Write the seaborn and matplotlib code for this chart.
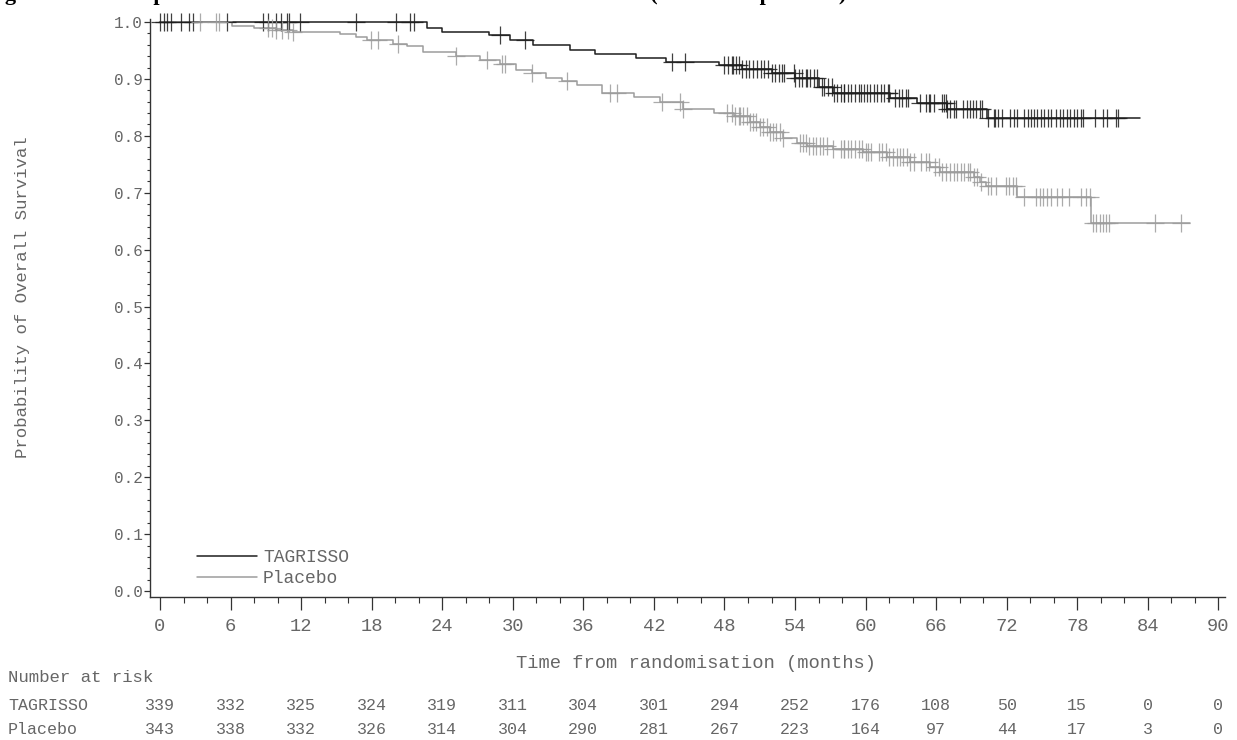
import numpy as np
import matplotlib
matplotlib.use("Agg")
import matplotlib.pyplot as plt
import matplotlib.transforms as mtransforms
from matplotlib.ticker import MultipleLocator
import seaborn as sns

# Kaplan-Meier step points (months, survival probability)
tag_t = [0, 22.7, 24.0, 28.0, 29.8, 31.7, 34.9, 37.0, 40.5, 43.0, 47.5, 49.5, 52.0,
         54.0, 56.0, 57.2, 62.1, 64.4, 66.9, 70.3, 83.3]
tag_s = [1.0, 0.990, 0.983, 0.977, 0.968, 0.960, 0.951, 0.944, 0.937, 0.930, 0.924, 0.918, 0.910,
         0.901, 0.886, 0.875, 0.866, 0.858, 0.847, 0.832, 0.832]

pla_t = [0, 6.1, 8.0, 9.9, 11.3, 15.3, 16.7, 17.6, 19.8, 21.0, 22.4, 25.2, 27.2, 28.9,
         30.3, 31.6, 32.8, 34.2, 35.5, 37.6, 40.3, 42.5, 44.5, 47.1, 48.8, 50.2, 51.0,
         51.9, 53.0, 54.2, 55.0, 57.2, 59.8, 61.8, 63.8, 65.5, 66.3, 69.2, 69.7, 70.2,
         72.9, 79.2, 87.6]
pla_s = [1.0, 0.993, 0.989, 0.986, 0.983, 0.979, 0.974, 0.968, 0.962, 0.957, 0.948, 0.940, 0.933, 0.927,
         0.916, 0.910, 0.902, 0.897, 0.889, 0.876, 0.868, 0.860, 0.848, 0.840, 0.834, 0.825, 0.816,
         0.807, 0.796, 0.788, 0.782, 0.777, 0.772, 0.763, 0.754, 0.746, 0.737, 0.728, 0.719, 0.711,
         0.693, 0.647, 0.647]

# censoring times (months)
tag_cens = [0.0, 0.3, 0.6, 0.9, 1.8, 2.5, 2.8, 5.7, 8.8, 9.2, 9.9, 10.3, 10.8, 11.0, 11.9,
            16.7, 20.1, 21.3, 21.6, 28.9, 31.0, 43.5, 44.6,
            48.0, 48.3, 48.6, 48.7, 49.0, 49.2, 49.5, 49.8, 50.1, 50.4, 50.8, 51.1, 51.4,
            51.7, 52.0, 52.3, 52.6, 52.9, 53.1, 53.9, 54.0, 54.3, 54.6, 54.9, 55.0, 55.3,
            55.6, 55.9, 56.3, 56.5, 56.8, 57.1, 57.3, 57.6, 57.9, 58.2,
            58.2, 58.5, 58.8, 59.1, 59.4, 59.6, 59.9, 60.1, 60.4, 60.7, 61.0, 61.3, 61.6,
            61.9, 62.0, 62.5, 62.8, 63.1, 63.4, 63.6, 64.6, 65.1, 65.4, 65.5, 65.8,
            66.5, 66.7, 66.8, 66.9, 67.2, 67.5, 67.7, 68.3, 68.6, 68.9, 69.1, 69.4, 69.7,
            69.9, 70.4, 70.9, 71.0, 71.3, 71.6, 72.3, 72.6, 72.9, 73.5, 73.8, 74.1, 74.3,
            74.6, 74.9, 75.2, 75.5, 75.8, 76.2, 76.5, 76.8, 77.1, 77.4, 77.7, 78.0, 78.3,
            78.5, 79.5, 80.2, 80.5, 81.3, 81.5]
pla_cens = [3.4, 4.8, 5.0, 9.2, 9.5, 9.9, 10.4, 10.9, 11.3, 17.9, 18.5, 20.2,
            25.2, 27.8, 29.1, 29.3, 31.6, 34.6, 38.3, 38.9, 42.7, 44.2, 44.5,
            48.2, 48.6, 48.9, 49.2, 49.3, 49.6, 49.9, 50.2, 50.4, 50.7, 51.0, 51.3, 51.6,
            51.9, 52.1, 52.4, 52.7, 53.0, 54.4, 54.7, 54.9, 55.2, 55.5, 55.8, 56.1, 56.4,
            56.7, 57.2, 57.9, 58.2, 58.2, 58.5, 58.8, 59.1, 59.4, 59.7, 60.0, 60.2,
            60.5, 61.1, 61.4, 61.7, 62.0, 62.3, 62.7, 62.9, 63.2, 63.5, 63.8, 64.1, 64.7,
            65.1, 65.4, 65.9, 66.2, 66.5, 66.8, 67.2, 67.5, 67.8, 68.1, 68.4, 68.7, 68.9,
            69.2, 69.5, 69.8, 70.4, 70.7, 71.1, 71.9, 72.2, 72.5, 72.8, 73.5, 74.5, 74.8,
            75.1, 75.4, 75.8, 76.3, 76.7, 77.3, 78.3, 78.7, 79.1, 79.3, 79.6, 79.9, 80.2,
            80.4, 80.7, 84.6, 86.8]

risk_times = list(range(0, 91, 6))
tag_risk = [339, 332, 325, 324, 319, 311, 304, 301, 294, 252, 176, 108, 50, 15, 0, 0]
pla_risk = [343, 338, 332, 326, 314, 304, 290, 281, 267, 223, 164, 97, 44, 17, 3, 0]

arms = ["TAGRISSO", "Placebo"]
colors = ["#1e1e1e", "#9c9c9c"]
grey = "#666666"

sns.set_theme(style="ticks")
plt.rcParams["font.family"] = ["Liberation Mono", "DejaVu Sans"]

fig = plt.figure(figsize=(12.37, 7.40), dpi=100)
ax = fig.add_axes([150 / 1237, 143 / 740, 1075 / 1237, 578 / 740])


def step_value(t, s, c):
    idx = np.searchsorted(np.asarray(t), np.asarray(c), side="right") - 1
    return np.asarray(s)[idx]


for name, t, s, cens, col in [(arms[0], tag_t, tag_s, tag_cens, colors[0]),
                              (arms[1], pla_t, pla_s, pla_cens, colors[1])]:
    sns.lineplot(x=t, y=s, drawstyle="steps-post", color=col, linewidth=1.1,
                 estimator=None, sort=False, ax=ax, label=name)
    sns.scatterplot(x=cens, y=step_value(t, s, cens), marker="+", s=160,
                    color=col, linewidth=0.9, alpha=0.85, ax=ax, clip_on=False,
                    legend=False, zorder=3)

ax.set_xlim(-0.85, 90.56)
ax.set_ylim(-0.0105, 1.0053)
ax.xaxis.set_major_locator(MultipleLocator(6))
ax.xaxis.set_minor_locator(MultipleLocator(2))
ax.yaxis.set_minor_locator(MultipleLocator(0.02))
ax.set_yticks(np.arange(0, 1.01, 0.1))
ax.set_yticklabels([f"{v:.1f}" for v in np.arange(0, 1.01, 0.1)])
ax.tick_params(axis="x", which="major", length=9, width=0.9, color="#333333",
               labelsize=13.5, labelcolor=grey, pad=6)
ax.tick_params(axis="x", which="minor", length=4, width=0.8, color="#333333")
ax.tick_params(axis="y", which="major", length=4, width=0.9, color="#333333",
               labelsize=11.5, labelcolor=grey, pad=1)
ax.tick_params(axis="y", which="minor", length=2.5, width=0.8, color="#333333")
sns.despine(ax=ax)
for sp in ["left", "bottom"]:
    ax.spines[sp].set_color("#333333")
    ax.spines[sp].set_linewidth(1.0)

ax.set_xlabel("Time from randomisation (months)", fontsize=13.5, color=grey)
ax.xaxis.set_label_coords(0.508, -0.100)
ax.set_ylabel("Probability of Overall Survival", fontsize=12.5, color=grey)
ax.yaxis.set_label_coords(-0.112, 0.519)

leg = ax.legend(loc="lower left", bbox_to_anchor=(0.037, 0.005), frameon=False,
                handlelength=3.3, handletextpad=0.35, labelspacing=0.22,
                fontsize=13, borderaxespad=0)
for txt in leg.get_texts():
    txt.set_color(grey)

# number at risk table
trans = mtransforms.blended_transform_factory(ax.transData, fig.transFigure)
fig.text(8 / 1237, 1 - 678 / 740, "Number at risk", fontsize=12.5, color=grey, va="center")
for row_y, name, vals in [(705, arms[0], tag_risk), (729, arms[1], pla_risk)]:
    fig.text(8 / 1237, 1 - row_y / 740, name, fontsize=12, color=grey, va="center")
    for t, v in zip(risk_times, vals):
        ax.text(t, 1 - row_y / 740, str(v), transform=trans, ha="center", va="center",
                fontsize=12, color=grey)

# title (cut off at the top edge, as in the source page)
fig.text(-15 / 1237, 1.0, "Figure 3", fontfamily="Liberation Serif", fontweight="bold",
         fontsize=16, va="baseline", color="black")
fig.text(125 / 1237, 1.0,
         "Kaplan-Meier Curves of Overall Survival in ADAURA (Overall Population)",
         fontfamily="Liberation Serif", fontweight="bold", fontsize=16,
         va="baseline", color="black")

fig.savefig("out.png", dpi=100)
